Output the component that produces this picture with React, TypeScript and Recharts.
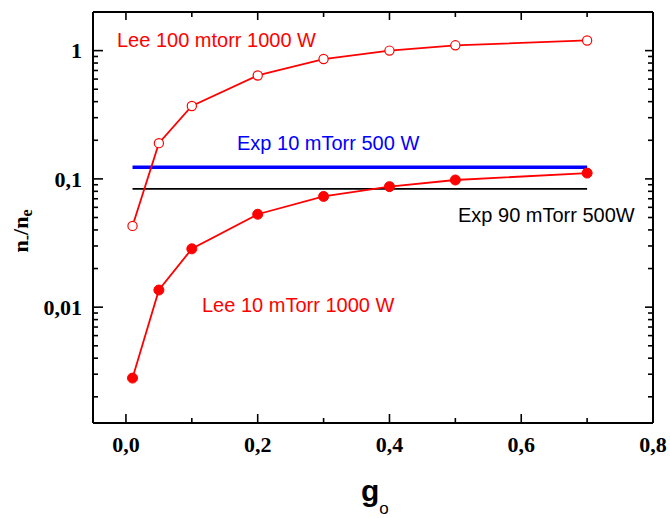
import React from "react";
import { LineChart, Line, XAxis, YAxis } from "recharts";

// g_o values and n-/ne ratios
const gValues = [0.01, 0.05, 0.1, 0.2, 0.3, 0.4, 0.5, 0.7];
const lee100mtorr = [0.043, 0.19, 0.37, 0.64, 0.86, 1.0, 1.1, 1.2];
const lee10mTorr = [0.0028, 0.0136, 0.0285, 0.053, 0.073, 0.087, 0.098, 0.111];
const expRange = [0.01, 0.7];
const exp10mTorr = [0.123, 0.123];
const exp90mTorr = [0.0836, 0.0836];

const xMajor = [0, 0.2, 0.4, 0.6, 0.8];
const xTicks = [0, 0.1, 0.2, 0.3, 0.4, 0.5, 0.6, 0.7, 0.8];
const yMajor = [0.01, 0.1, 1];
const yTicks = [
  0.002, 0.003, 0.004, 0.005, 0.006, 0.007, 0.008, 0.009,
  0.01, 0.02, 0.03, 0.04, 0.05, 0.06, 0.07, 0.08, 0.09,
  0.1, 0.2, 0.3, 0.4, 0.5, 0.6, 0.7, 0.8, 0.9, 1,
];

const X_DOMAIN = [-0.05, 0.8];
const Y_DOMAIN = [0.00125, 2];

const SERIF = "'Liberation Serif', 'Times New Roman', serif";
const SANS = "'Liberation Sans', Arial, sans-serif";

const toData = (xs: number[], ys: number[]) => xs.map((g, i) => ({ g, v: ys[i] }));

const isMajor = (list: number[], v: number) => list.some((m) => Math.abs(m - v) < 1e-9);
const comma = (v: number) => String(v).replace(".", ",");

// ticks point into the plot, labels sit outside
const BottomTick = (props: any) => {
  const { x, y, payload } = props;
  const major = isMajor(xMajor, payload.value);
  return (
    <g>
      <line x1={x} x2={x} y1={y} y2={y - (major ? 9 : 5)} stroke="#000" strokeWidth={1.6} />
      {major && (
        <text x={x} y={y + 29} textAnchor="middle" fontFamily={SERIF} fontWeight="bold" fontSize={22} fill="#000">
          {payload.value === 0 ? "0,0" : comma(payload.value)}
        </text>
      )}
    </g>
  );
};

const TopTick = (props: any) => {
  const { x, y, payload } = props;
  const major = isMajor(xMajor, payload.value);
  return <line x1={x} x2={x} y1={y} y2={y + (major ? 8 : 5)} stroke="#000" strokeWidth={1.6} />;
};

const LeftTick = (props: any) => {
  const { x, y, payload } = props;
  const major = isMajor(yMajor, payload.value);
  return (
    <g>
      <line x1={x} x2={x + (major ? 10 : 5)} y1={y} y2={y} stroke="#000" strokeWidth={1.6} />
      {major && (
        <text x={x - 11} y={y} dy="0.35em" textAnchor="end" fontFamily={SERIF} fontWeight="bold" fontSize={22} fill="#000">
          {comma(payload.value)}
        </text>
      )}
    </g>
  );
};

const RightTick = (props: any) => {
  const { x, y, payload } = props;
  const major = isMajor(yMajor, payload.value);
  return <line x1={x} x2={x - (major ? 8 : 5)} y1={y} y2={y} stroke="#000" strokeWidth={1.6} />;
};

export default function App() {
  const axisLine = { stroke: "#000", strokeWidth: 2 };
  return (
    <div style={{ position: "absolute", left: 0, top: 0, background: "#fff" }}>
      <LineChart width={670} height={518} margin={{ top: 11, right: 16, bottom: 94, left: 92 }}>
        <XAxis
          xAxisId="b"
          dataKey="g"
          type="number"
          domain={X_DOMAIN}
          ticks={xTicks}
          interval={0}
          height={1}
          tickSize={0}
          tickMargin={0}
          tickLine={false}
          axisLine={axisLine}
          tick={<BottomTick />}
          allowDataOverflow
        />
        <XAxis
          xAxisId="t"
          orientation="top"
          dataKey="g"
          type="number"
          domain={X_DOMAIN}
          ticks={xTicks}
          interval={0}
          height={1}
          tickSize={0}
          tickMargin={0}
          tickLine={false}
          axisLine={axisLine}
          tick={<TopTick />}
          allowDataOverflow
        />
        <YAxis
          yAxisId="l"
          type="number"
          scale="log"
          domain={Y_DOMAIN}
          ticks={yTicks}
          interval={0}
          width={1}
          tickSize={0}
          tickMargin={0}
          tickLine={false}
          axisLine={axisLine}
          tick={<LeftTick />}
          allowDataOverflow
        />
        <YAxis
          yAxisId="r"
          orientation="right"
          type="number"
          scale="log"
          domain={Y_DOMAIN}
          ticks={yTicks}
          interval={0}
          width={1}
          tickSize={0}
          tickMargin={0}
          tickLine={false}
          axisLine={axisLine}
          tick={<RightTick />}
          allowDataOverflow
        />

        <Line
          xAxisId="b"
          yAxisId="l"
          data={toData(expRange, exp10mTorr)}
          dataKey="v"
          stroke="#0000ff"
          strokeWidth={3.5}
          dot={false}
          isAnimationActive={false}
        />
        <Line
          xAxisId="b"
          yAxisId="l"
          data={toData(expRange, exp90mTorr)}
          dataKey="v"
          stroke="#000"
          strokeWidth={1.8}
          dot={false}
          isAnimationActive={false}
        />
        <Line
          xAxisId="b"
          yAxisId="l"
          data={toData(gValues, lee100mtorr)}
          dataKey="v"
          stroke="#ff0000"
          strokeWidth={1.8}
          dot={{ r: 4.6, fill: "#fff", stroke: "#ff0000", strokeWidth: 1.2 }}
          isAnimationActive={false}
        />
        <Line
          xAxisId="b"
          yAxisId="l"
          data={toData(gValues, lee10mTorr)}
          dataKey="v"
          stroke="#ff0000"
          strokeWidth={1.8}
          dot={{ r: 5, fill: "#ff0000", stroke: "#ff0000", strokeWidth: 1 }}
          isAnimationActive={false}
        />

        {/* annotations */}
        <text x={117} y={47} fontFamily={SANS} fontSize={20} fill="#ff0000">Lee 100 mtorr 1000 W</text>
        <text x={237} y={150} fontFamily={SANS} fontSize={20} fill="#0000ff">Exp 10 mTorr 500 W</text>
        <text x={458} y={222} fontFamily={SANS} fontSize={20} fill="#000">Exp 90 mTorr 500W</text>
        <text x={202} y={312} fontFamily={SANS} fontSize={20} fill="#ff0000">Lee 10 mTorr 1000 W</text>

        {/* axis titles */}
        <text transform="translate(28,231) rotate(-90)" textAnchor="middle" fontFamily={SERIF} fontWeight="bold" fontSize={22} fill="#000">
          n<tspan dy={4} fontSize={16}>-</tspan>
          <tspan dy={-4}>/n</tspan>
          <tspan dy={4} fontSize={16}>e</tspan>
        </text>
        <text x={361} y={501} fontFamily={SANS} fill="#000">
          <tspan fontWeight="bold" fontSize={30}>g</tspan>
          <tspan dy={13} fontSize={17}>o</tspan>
        </text>
      </LineChart>
    </div>
  );
}
